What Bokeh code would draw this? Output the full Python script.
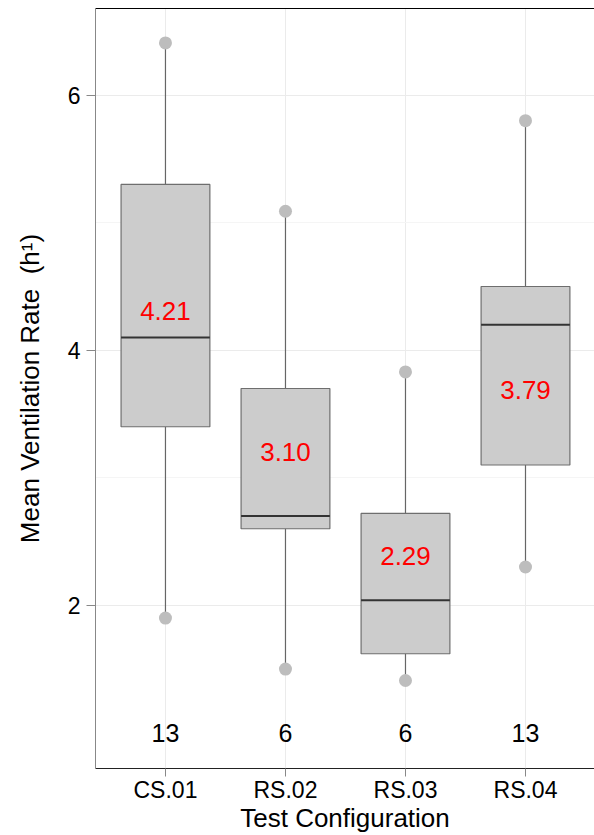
from bokeh.plotting import figure
from bokeh.models import Range1d, FixedTicker, LinearAxis, ColumnDataSource
from bokeh.embed import file_html
from bokeh.resources import INLINE
from bokeh.core.properties import value

categories = ["CS.01", "RS.02", "RS.03", "RS.04"]
q1 = [3.40, 2.60, 1.62, 3.10]
median = [4.10, 2.70, 2.04, 4.20]
q3 = [5.30, 3.70, 2.72, 4.50]
lo = [1.90, 1.50, 1.41, 2.30]
hi = [6.41, 5.09, 3.83, 5.80]
means = [4.21, 3.10, 2.29, 3.79]
counts = [13, 6, 6, 13]
y_ticks = [2, 4, 6]
y_minor = [3, 5]
count_y = 1.0

xs = list(range(1, len(categories) + 1))
nudge = [0.1 if m >= md else -0.1 for m, md in zip(means, median)]
src = ColumnDataSource(dict(
    x=xs, q1=q1, med=median, q3=q3, lo=lo, hi=hi,
    mean_y=[m + n for m, n in zip(means, nudge)],
    mean_txt=[f"{m:.2f}" for m in means],
    cnt_y=[count_y] * len(xs),
    cnt_txt=[str(c) for c in counts],
))

FONT = "Liberation Sans"
p = figure(width=594, height=835, output_backend="svg", toolbar_location=None,
           x_range=Range1d(0.417, 4.575), y_range=Range1d(0.72, 6.68),
           min_border_left=95, min_border_top=8, min_border_right=0, min_border_bottom=0)
p.background_fill_color = "white"
p.border_fill_color = "white"
p.outline_line_color = None

# grids
p.xgrid.ticker = FixedTicker(ticks=xs)
p.xgrid.grid_line_color = "#ebebeb"
p.ygrid.ticker = FixedTicker(ticks=y_ticks, minor_ticks=y_minor)
p.ygrid.grid_line_color = "#ebebeb"
p.ygrid.minor_grid_line_color = "#f5f5f5"

# axes
p.xaxis.ticker = FixedTicker(ticks=xs)
p.xaxis.major_label_overrides = {x: c for x, c in zip(xs, categories)}
p.xaxis.axis_label = "Test Configuration"
p.yaxis.ticker = FixedTicker(ticks=y_ticks)
p.yaxis.axis_label = "Mean Ventilation Rate\u00a0\u00a0(h¹)"
for ax in (p.xaxis[0], p.yaxis[0]):
    ax.major_label_text_font = FONT
    ax.major_label_text_font_size = "23px"
    ax.major_label_text_color = "black"
    ax.axis_label_text_font = FONT
    ax.axis_label_text_font_size = "26px"
    ax.axis_label_text_font_style = "normal"
    ax.axis_label_text_color = "black"
    ax.minor_tick_line_color = None
    ax.major_tick_in = 0
    ax.major_tick_out = 9
p.xaxis.axis_line_color = "#222222"
p.xaxis.major_tick_line_color = "#888888"
p.xaxis.major_tick_out = 8
p.xaxis.major_label_standoff = 0
p.xaxis.axis_label_standoff = -3
p.yaxis.axis_line_color = "#888888"
p.yaxis.major_tick_line_color = "#888888"
p.yaxis.major_label_standoff = 6
p.yaxis.axis_label_standoff = 20

top = LinearAxis(ticker=FixedTicker(ticks=[]), axis_line_color="black",
                 major_tick_line_color=None, minor_tick_line_color=None,
                 major_label_text_font_size="0px")
p.add_layout(top, "above")

# whiskers
p.segment(x0="x", y0="q3", x1="x", y1="hi", source=src, line_color="#666666", line_width=1.2)
p.segment(x0="x", y0="q1", x1="x", y1="lo", source=src, line_color="#666666", line_width=1.2)
# boxes
p.vbar(x="x", bottom="q1", top="q3", width=0.74, source=src,
       fill_color="#cccccc", line_color="#6e6e6e", line_width=1.2)
# medians
p.vbar(x="x", bottom="med", top="med", width=0.74, source=src,
       fill_color=None, line_color="#333333", line_width=2)
# extreme points
p.scatter(x="x", y="hi", source=src, size=13, fill_color="#bdbdbd", line_color=None)
p.scatter(x="x", y="lo", source=src, size=13, fill_color="#bdbdbd", line_color=None)

# mean labels
p.text(x="x", y="mean_y", text="mean_txt", source=src, text_color="#ff0000",
       text_font=value(FONT), text_font_size="26px",
       text_align="center", text_baseline="middle")
# counts
p.text(x="x", y="cnt_y", text="cnt_txt", source=src, text_color="black",
       text_font=value(FONT), text_font_size="25px",
       text_align="center", text_baseline="middle")

open("out.html", "w").write(file_html(p, INLINE))
